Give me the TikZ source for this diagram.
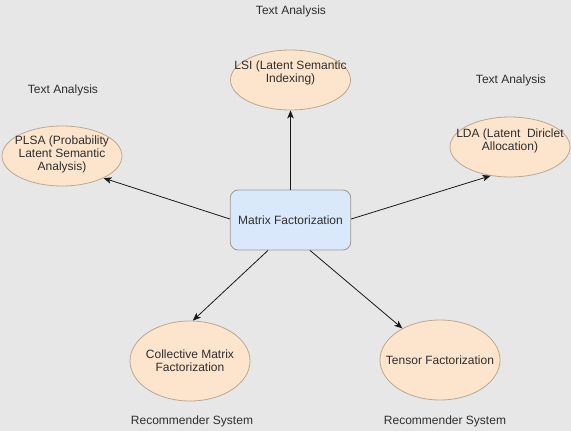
\documentclass[tikz,border=0pt]{standalone}
\usepackage{fontspec}
\setmainfont{Liberation Sans}
\usetikzlibrary{arrows.meta,shapes.geometric}
\definecolor{bgc}{HTML}{E7E7E7}
\definecolor{ellfill}{HTML}{FDE5CD}
\definecolor{elldraw}{HTML}{BBA88E}
\definecolor{rectfill}{HTML}{DAE8FC}
\definecolor{rectdraw}{HTML}{A09A8C}
\definecolor{txt}{HTML}{2E2E2E}
\tikzset{
  ell/.style={ellipse, draw=elldraw, fill=ellfill, line width=0.8pt, minimum width=120pt, minimum height=60pt, inner sep=0pt},
  bigell/.style={ell, minimum height=80pt},
  mfbox/.style={rectangle, rounded corners=8pt, draw=rectdraw, fill=rectfill, line width=0.8pt, minimum width=120.5pt, minimum height=60pt, inner sep=0pt},
  lbl/.style={text=txt, font=\fontsize{12}{13.2}\selectfont, align=center, inner sep=0pt},
  conn/.style={draw=black!90, line width=0.8pt, -{Stealth[length=8pt,width=6.5pt,inset=2pt]}}
}
\begin{document}
\begin{tikzpicture}[x=1pt,y=-1pt]
\useasboundingbox[fill=bgc] (0,0) rectangle (571,431);
% nodes
\node[mfbox] (mf) at (290.5,220) {};
\node[lbl] (mft) at (mf.center) {Matrix Factorization};
\node[ell] (lsi) at (290.5,80) {};
\node[lbl] (lsit) at ([yshift=7pt]lsi.center) {LSI (Latent Semantic\\Indexing)};
\node[ell] (plsa) at (62,156) {};
\node[lbl] (plsat) at ([yshift=1.5pt]plsa.center) {PLSA (Probability\\Latent Semantic\\Analysis)};
\node[ell] (lda) at (510,147) {};
\node[lbl] (ldat) at ([yshift=6pt]lda.center) {LDA (Latent~ Diriclet\\Allocation)};
\node[bigell] (cmf) at (190,361) {};
\node[lbl] (cmft) at (cmf.center) {Collective Matrix\\Factorization};
\node[bigell] (tf) at (440,360) {};
\node[lbl] (tft) at (tf.center) {Tensor Factorization};
% labels
\node[lbl] (ta1) at (291,11) {Text Analysis};
\node[lbl] (ta2) at (63,90) {Text Analysis};
\node[lbl] (ta3) at (511,80) {Text Analysis};
\node[lbl] (rs1) at (192,421) {Recommender System};
\node[lbl] (rs2) at (445,421) {Recommender System};
% connectors
\draw[conn] (mf.north) -- (lsi.south);
\draw[conn] ([yshift=1pt]mf.west) -- (plsa.332);
\draw[conn] ([yshift=1pt]mf.east) -- (lda.236);
\draw[conn] ([xshift=-22.5pt]mf.south) -- (cmf.86);
\draw[conn] ([xshift=19.5pt]mf.south) -- (tf.140);
\end{tikzpicture}
\end{document}
